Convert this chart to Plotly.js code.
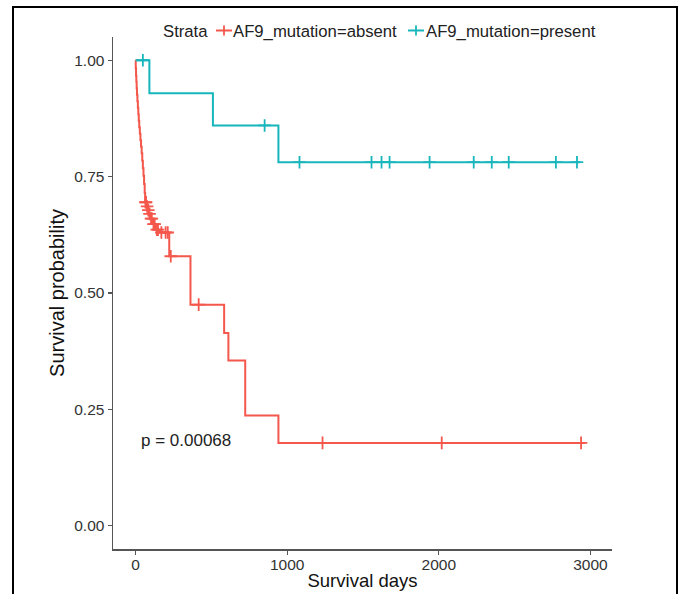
<!DOCTYPE html>
<html>
<head>
<meta charset="utf-8">
<script src="https://cdn.plot.ly/plotly-3.0.1.min.js"></script>
<style>
  html, body { margin: 0; padding: 0; background: #fff; }
  #wrap { position: relative; width: 680px; height: 594px; overflow: hidden; }
  #chart { position: absolute; left: 0; top: 0; width: 680px; height: 594px; }
  #frame { position: absolute; left: 12px; top: 6px; width: 662px; height: 620px;
           border: 2px solid #000; pointer-events: none; }
</style>
</head>
<body>
<div id="wrap">
  <div id="chart"></div>
  <div id="frame"></div>
</div>
<script>
// Kaplan-Meier step data
const groupNames = ["AF9_mutation=absent", "AF9_mutation=present"];
const groupColors = ["#F4574B", "#17B6BC"];
const legendTitle = "Strata";

const absentTime = [0, 1, 3, 5, 7, 9, 12, 15, 18, 21, 24, 28, 32, 36, 40, 44, 48, 52, 56, 60, 63,
                    72, 80, 88, 98, 112, 132, 160, 222, 362, 584, 612, 723, 942, 2964];
const absentSurv = [1.000, 0.983, 0.967, 0.954, 0.940, 0.926, 0.912, 0.898, 0.884, 0.870, 0.856,
                    0.842, 0.828, 0.814, 0.800, 0.784, 0.768, 0.752, 0.734, 0.715, 0.695,
                    0.686, 0.678, 0.670, 0.660, 0.648, 0.636, 0.630, 0.579, 0.475, 0.414,
                    0.355, 0.237, 0.178, 0.178];
const absentCensor = [65, 69, 76, 84, 92, 102, 107, 118, 126, 140, 148, 170, 198, 212, 232,
                      416, 1233, 2019, 2938];

const presentTime = [0, 91, 510, 942, 2931];
const presentSurv = [1.000, 0.929, 0.860, 0.781, 0.781];
const presentCensor = [48, 851, 1081, 1556, 1622, 1675, 1939, 2230, 2349, 2461, 2772, 2911];

const xTicks = [0, 1000, 2000, 3000];
const yTicks = [0, 0.25, 0.5, 0.75, 1.0];
const yTickText = ["0.00", "0.25", "0.50", "0.75", "1.00"];
const pText = "p = 0.00068";

function survAt(times, surv, t) {
  let s = surv[0];
  for (let i = 0; i < times.length; i++) { if (times[i] <= t) s = surv[i]; }
  return s;
}

const groups = [
  {time: absentTime, surv: absentSurv, censor: absentCensor},
  {time: presentTime, surv: presentSurv, censor: presentCensor}
];

const traces = [];
groups.forEach((g, i) => {
  traces.push({
    x: g.time, y: g.surv, type: 'scatter', mode: 'lines',
    line: {shape: 'hv', color: groupColors[i], width: 2},
    showlegend: false, hoverinfo: 'skip'
  });
  traces.push({
    x: g.censor, y: g.censor.map(t => survAt(g.time, g.surv, t)),
    type: 'scatter', mode: 'markers',
    marker: {symbol: 'cross-thin', size: 9, color: groupColors[i],
             line: {color: groupColors[i], width: 1.8}},
    showlegend: false, hoverinfo: 'skip'
  });
});

// ---- manual legend (ggplot style: short key with a "+" through a line) ----
const L = 113, R = 612, T = 37, B = 549;          // plot area in pixels
const px = v => (v - L) / (R - L);
const py = v => (B - v) / (B - T);
const legendKeyX = [224, 416];   // key centres (pixels)
const legendTextX = [231, 424];  // label left edges (pixels)
const legendY = 30.5;
const legendFont = 16.7;
const shapes = [], annotations = [];
annotations.push({xref: 'paper', yref: 'paper', x: px(161), y: py(legendY + 1), text: legendTitle,
  showarrow: false, xanchor: 'left', yanchor: 'middle', font: {size: legendFont, color: '#222'}});
groupNames.forEach((name, i) => {
  const c = groupColors[i], cx = legendKeyX[i];
  shapes.push({type: 'line', xref: 'paper', yref: 'paper', x0: px(cx - 8), x1: px(cx + 8),
    y0: py(legendY), y1: py(legendY), line: {color: c, width: 2}});
  shapes.push({type: 'line', xref: 'paper', yref: 'paper', x0: px(cx), x1: px(cx),
    y0: py(legendY - 5), y1: py(legendY + 5), line: {color: c, width: 1.8}});
  annotations.push({xref: 'paper', yref: 'paper', x: px(legendTextX[i]), y: py(legendY + 1),
    text: name, showarrow: false, xanchor: 'left', yanchor: 'middle',
    font: {size: legendFont, color: '#222'}});
});
annotations.push({
  x: 23, y: 0.183, xref: 'x', yref: 'y', text: pText, showarrow: false,
  xanchor: 'left', yanchor: 'middle', font: {size: 17, color: '#222'}
});

const font = "Liberation Sans, Arial, sans-serif";
const layout = {
  width: 680, height: 594,
  margin: {l: L, r: 680 - R, t: T, b: 594 - B, pad: 0},
  paper_bgcolor: '#fff', plot_bgcolor: '#fff',
  font: {family: font, color: '#222'},
  showlegend: false,
  xaxis: {
    range: [-149, 3142], tickvals: xTicks, ticktext: xTicks.map(String),
    showline: true, linecolor: '#555', linewidth: 1.5, showgrid: false, zeroline: false,
    ticks: 'outside', ticklen: 4, tickwidth: 1.2, tickcolor: '#555',
    tickfont: {size: 15.5, color: '#333'}, ticklabelstandoff: -3,
    title: {text: 'Survival days', font: {size: 18.5, color: '#111'}, standoff: 2}
  },
  yaxis: {
    range: [-0.05, 1.05], tickvals: yTicks, ticktext: yTickText,
    showline: true, linecolor: '#555', linewidth: 1.5, showgrid: false, zeroline: false,
    ticks: 'outside', ticklen: 4, tickwidth: 1.2, tickcolor: '#555',
    tickfont: {size: 15.5, color: '#333'},
    title: {text: 'Survival probability', font: {size: 20, color: '#111'}, standoff: 4}
  },
  shapes: shapes,
  annotations: annotations
};

Plotly.newPlot('chart', traces, layout, {displayModeBar: false, staticPlot: true});
</script>
</body>
</html>
